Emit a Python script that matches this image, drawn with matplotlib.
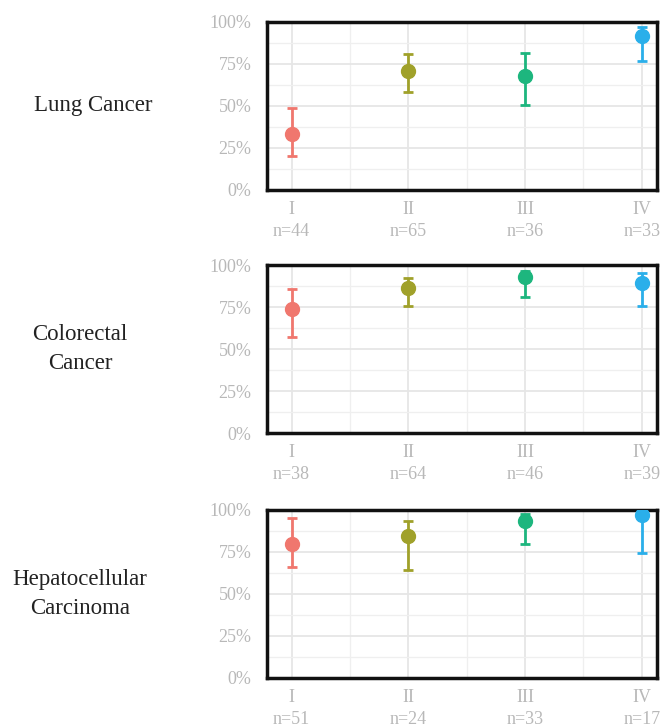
import matplotlib.pyplot as plt
import numpy as np

plt.rcParams['font.family'] = ['Liberation Serif', 'DejaVu Serif']

stages = ['I', 'II', 'III', 'IV']
colors = ['#F0776E', '#A0A12A', '#1DB67E', '#2AAFEA']

cancers = ['Lung Cancer', 'Colorectal\nCancer', 'Hepatocellular\nCarcinoma']

lung_n = [44, 65, 36, 33]
lung_est = [0.335, 0.708, 0.679, 0.918]
lung_lo = [0.205, 0.585, 0.505, 0.768]
lung_hi = [0.49, 0.808, 0.818, 0.968]

crc_n = [38, 64, 46, 39]
crc_est = [0.738, 0.861, 0.927, 0.891]
crc_lo = [0.573, 0.758, 0.812, 0.756]
crc_hi = [0.855, 0.92, 0.965, 0.95]

hcc_n = [51, 24, 33, 17]
hcc_est = [0.798, 0.847, 0.936, 0.97]
hcc_lo = [0.663, 0.643, 0.798, 0.746]
hcc_hi = [0.95, 0.936, 0.975, 0.998]

panels = [
    (lung_n, lung_est, lung_lo, lung_hi),
    (crc_n, crc_est, crc_lo, crc_hi),
    (hcc_n, hcc_est, hcc_lo, hcc_hi),
]

fig = plt.figure(figsize=(6.61, 7.27), dpi=100)

W, H = 661, 727
tops = [22, 265, 510]
ax_h = 168
label_y = [106, 349, 594]
label_x = [93, 80, 80]

x = np.arange(1, 5)
for i, (n, est, lo, hi) in enumerate(panels):
    ax = fig.add_axes([267 / W, 1 - (tops[i] + ax_h) / H, 390 / W, ax_h / H])
    est = np.array(est)
    lo = np.array(lo)
    hi = np.array(hi)
    for j in range(4):
        ax.errorbar(x[j], est[j], yerr=[[est[j] - lo[j]], [hi[j] - est[j]]],
                    fmt='o', color=colors[j], ms=10, elinewidth=2,
                    capsize=3.5, capthick=2, zorder=3)
    ax.set_xlim(0.79, 4.13)
    ax.set_ylim(0, 1)
    ax.set_yticks([0, 0.25, 0.5, 0.75, 1.0])
    ax.set_yticklabels(['0%', '25%', '50%', '75%', '100%'])
    ax.set_yticks([0.125, 0.375, 0.625, 0.875], minor=True)
    ax.set_xticks(x)
    ax.set_xticklabels([f'{s}\nn={k}' for s, k in zip(stages, n)], linespacing=1.35)
    ax.set_xticks([1.5, 2.5, 3.5], minor=True)
    ax.grid(True, which='major', color='#E6E6E6', lw=1.3, zorder=0)
    ax.grid(True, which='minor', color='#EFEFEF', lw=0.9, zorder=0)
    ax.set_axisbelow(True)
    ax.tick_params(which='both', length=0, labelsize=13, labelcolor='#B8B8B8')
    ax.tick_params(axis='y', pad=11)
    ax.tick_params(axis='x', pad=8)
    for sp in ax.spines.values():
        sp.set_linewidth(2.5)
        sp.set_color('#111111')
    fig.text(label_x[i] / W, 1 - label_y[i] / H, cancers[i], ha='center',
             va='center', fontsize=16.5, color='#222222', linespacing=1.5)

fig.savefig('out.png', dpi=100)
